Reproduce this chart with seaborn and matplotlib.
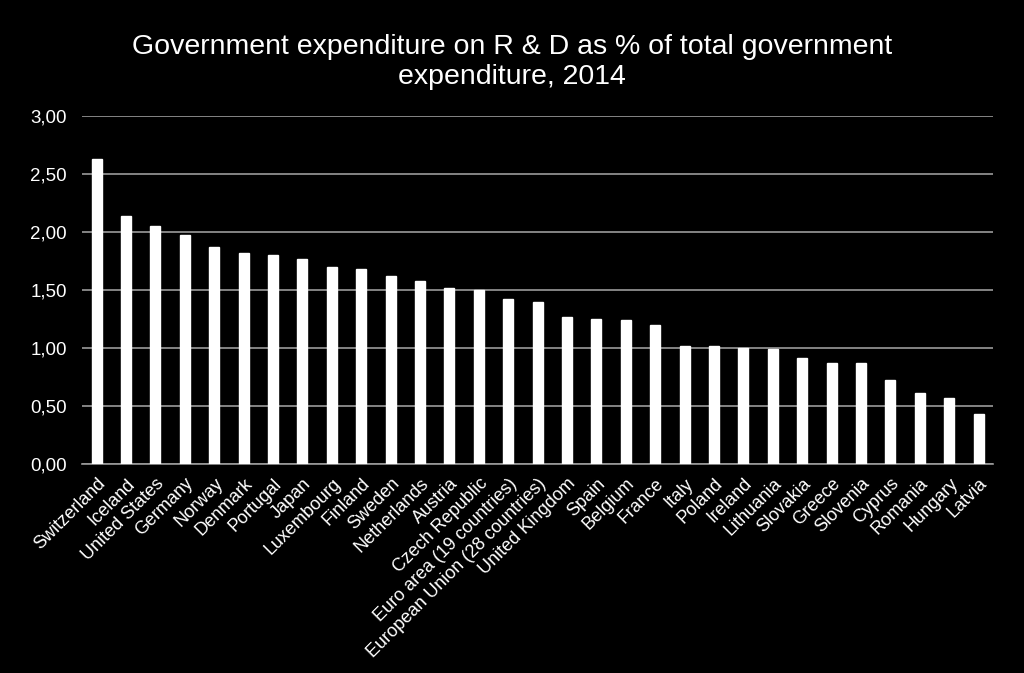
import numpy as np
import pandas as pd
import seaborn as sns
import matplotlib.pyplot as plt
from matplotlib.ticker import FuncFormatter

# Data
countries = ["Switzerland", "Iceland", "United States", "Germany", "Norway", "Denmark",
             "Portugal", "Japan", "Luxembourg", "Finland", "Sweden", "Netherlands",
             "Austria", "Czech Republic", "Euro area (19 countries)",
             "European Union (28 countries)", "United Kingdom", "Spain", "Belgium",
             "France", "Italy", "Poland", "Ireland", "Lithuania", "Slovakia", "Greece",
             "Slovenia", "Cyprus", "Romania", "Hungary", "Latvia"]
values = [2.63, 2.14, 2.05, 1.97, 1.87, 1.82, 1.80, 1.77, 1.70, 1.68, 1.62, 1.58,
          1.52, 1.50, 1.42, 1.40, 1.27, 1.25, 1.24, 1.20, 1.02, 1.02, 1.00, 0.99,
          0.91, 0.87, 0.87, 0.72, 0.61, 0.57, 0.43]

df = pd.DataFrame({"country": countries, "value": values})

sns.set_style("dark")
plt.rcParams["font.family"] = ["Liberation Sans", "DejaVu Sans"]

fig = plt.figure(figsize=(10.24, 6.73), dpi=100, facecolor="black")
ax = fig.add_axes([0.080, 0.3105, 0.890, 0.5173])
ax.set_facecolor("black")

sns.barplot(data=df, x="country", y="value", color="white", width=0.34,
            saturation=1, ax=ax, zorder=3)

ax.set_ylim(0, 3.0)
ax.set_yticks(np.arange(0, 3.01, 0.5))
ax.yaxis.set_major_formatter(FuncFormatter(lambda v, p: f"{v:.2f}".replace(".", ",")))
ax.grid(axis="y", color="#9a9a9a", linewidth=1.2, zorder=0)
ax.grid(axis="x", visible=False)
for s in ["left", "right", "top"]:
    ax.spines[s].set_visible(False)
ax.spines["bottom"].set_color("#9a9a9a")
ax.spines["bottom"].set_linewidth(1.2)

ax.tick_params(axis="y", colors="white", labelsize=13.5, length=0, pad=11)
ax.tick_params(axis="x", colors="white", labelsize=13, length=0, pad=8)
ax.set_xticks(range(len(countries)))
ax.set_xticklabels(countries, rotation=45, ha="right", rotation_mode="anchor")
ax.set_xlabel("")
ax.set_ylabel("")

fig.text(0.5, 0.950, "Government expenditure on R & D as % of total government\nexpenditure, 2014",
         color="white", fontsize=20.5, ha="center", va="top", linespacing=1.2)

fig.savefig("out.png", dpi=100, facecolor="black")
